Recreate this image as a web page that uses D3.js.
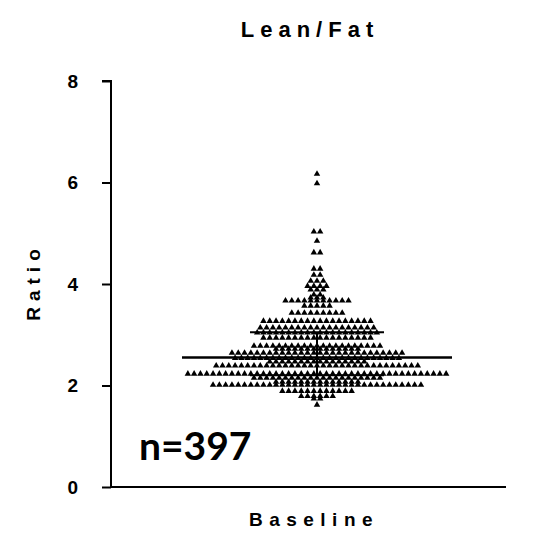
<!DOCTYPE html>
<html><head><meta charset="utf-8">
<script src="https://cdn.jsdelivr.net/npm/d3@7"></script>
<style>body{margin:0;background:#fff}svg{display:block}</style>
</head><body>
<svg id="chart" width="538" height="534"></svg>
<script>
const groups = ["Baseline"];
// beeswarm rows: value (ratio) and number of subjects at that value
const rowValues = [6.18, 5.99, 5.04, 4.86, 4.63, 4.31, 4.19, 4.07, 3.97, 3.90, 3.80, 3.74,
  3.68, 3.58, 3.44, 3.28, 3.15, 3.05, 2.95, 2.79, 2.73, 2.65, 2.55, 2.48, 2.40, 2.24, 2.16, 2.08, 2.02, 1.90, 1.80, 1.75, 1.63];
const rowCounts = [1, 1, 2, 1, 2, 2, 2, 3, 4, 3, 2, 3,
  11, 5, 9, 18, 19, 20, 18, 21, 14, 28, 27, 16, 33, 42, 21, 14, 34, 12, 6, 2, 1];
const meanValue = [2.55];
const sdRange = [2.20, 3.05];
const yTicks = [0, 2, 4, 6, 8];
const title = "Lean/Fat";
const yTitle = "Ratio";
const nLabel = "n=397";

const svg = d3.select("#chart");
const y = d3.scaleLinear().domain([0, 8]).range([487, 81]);
const x = d3.scaleBand().domain(groups).range([111, 523]);
const cx = x("Baseline") + x.bandwidth() / 2;
const step = 6.3;

// points
const pts = [];
rowValues.forEach((v, r) => {
  const n = rowCounts[r];
  for (let i = 0; i < n; i++) pts.push({v, off: (i - (n - 1) / 2) * step});
});
const tri = d3.symbol().type(d3.symbolTriangle).size(18);
svg.append("g").selectAll("path").data(pts).join("path")
  .attr("d", tri)
  .attr("transform", d => `translate(${cx + d.off},${y(d.v) + 0.5})`)
  .attr("fill", "#000");

// mean and SD
const g = svg.append("g").attr("stroke", "#000").attr("fill", "none");
g.append("line").attr("x1", cx - 135).attr("x2", cx + 135)
  .attr("y1", y(meanValue[0])).attr("y2", y(meanValue[0])).attr("stroke-width", 2.5);
g.append("line").attr("x1", cx).attr("x2", cx)
  .attr("y1", y(sdRange[0])).attr("y2", y(sdRange[1])).attr("stroke-width", 2);
sdRange.forEach(s => g.append("line").attr("x1", cx - 67).attr("x2", cx + 67)
  .attr("y1", y(s)).attr("y2", y(s)).attr("stroke-width", 2));

// axes
const yAxis = d3.axisLeft(y).tickValues(yTicks).tickSize(9).tickPadding(24).tickFormat(d3.format("d"));
const ya = svg.append("g").attr("transform", "translate(111,0)").call(yAxis);
ya.select(".domain").attr("stroke-width", 2).attr("d", `M-9,${y(8)}H0V${y(0)}`);
ya.selectAll(".tick line").attr("stroke-width", 2);
ya.selectAll("text").attr("font-family", "Liberation Sans, Arial, sans-serif")
  .attr("font-weight", "bold").attr("font-size", 19).attr("fill", "#000");
svg.append("line").attr("x1", 110).attr("x2", 506).attr("y1", y(0)).attr("y2", y(0))
  .attr("stroke", "#000").attr("stroke-width", 2);

// texts
const sans = "Liberation Sans, Arial, sans-serif";
svg.append("text").attr("x", 310).attr("y", 37).attr("text-anchor", "middle")
  .attr("font-family", sans).attr("font-weight", "bold")
  .attr("font-size", 22).attr("letter-spacing", 6).text(title);
svg.append("text").attr("x", 314).attr("y", 526).attr("text-anchor", "middle")
  .attr("font-family", sans).attr("font-weight", "bold")
  .attr("font-size", 19).attr("letter-spacing", 6.5).text(groups[0]);
svg.append("text").attr("transform", `translate(40,${y(4) - 2}) rotate(-90)`).attr("text-anchor", "middle")
  .attr("font-family", sans).attr("font-weight", "bold")
  .attr("font-size", 19).attr("letter-spacing", 6).text(yTitle);
svg.append("text").attr("x", 139).attr("y", 460)
  .attr("font-family", "Lato, sans-serif").attr("font-weight", "bold")
  .attr("font-size", 39).text(nLabel);
</script>
</body></html>
